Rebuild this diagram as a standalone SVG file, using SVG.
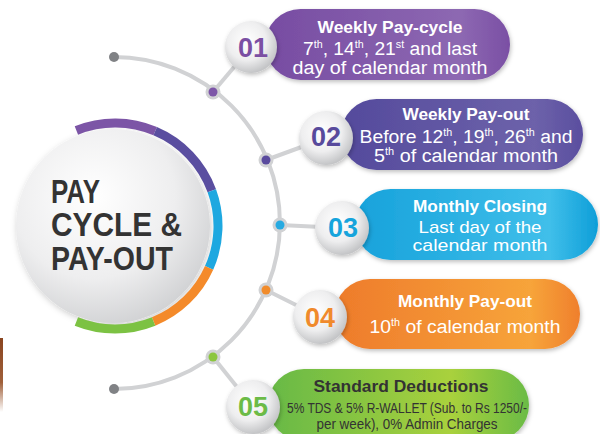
<svg xmlns="http://www.w3.org/2000/svg" width="600" height="434" viewBox="0 0 600 434">
<style>
.t{font-family:"Liberation Sans",Arial,sans-serif;text-anchor:middle;fill:#fff}
.h{font-weight:bold;font-size:17px}
.b{font-size:18px}
.b2{font-size:17px}
.s{font-size:14px;fill:#333}
.sup{font-size:10px}
.num{font-family:"Liberation Sans",Arial,sans-serif;font-weight:bold;font-size:27px;text-anchor:middle}
.big{font-family:"Liberation Sans",Arial,sans-serif;font-weight:bold;font-size:34px;fill:#333}
.link{stroke:#d1d2d4;stroke-width:4;fill:none}
.ring{fill:none;stroke-width:9}
</style>
<defs>
<radialGradient id="sph" cx="0.42" cy="0.38" r="0.62">
<stop offset="0" stop-color="#ffffff"/><stop offset="0.6" stop-color="#eeeeef"/><stop offset="1" stop-color="#c4c5c7"/>
</radialGradient>
<radialGradient id="bigc" cx="0.4" cy="0.35" r="0.7">
<stop offset="0" stop-color="#ffffff"/><stop offset="0.6" stop-color="#eeeeef"/><stop offset="1" stop-color="#cfd0d2"/>
</radialGradient>
<linearGradient id="g1"><stop offset="0" stop-color="#774ca2"/><stop offset="0.8" stop-color="#8d68b2"/><stop offset="1" stop-color="#7a4fa4"/></linearGradient>
<linearGradient id="g2"><stop offset="0" stop-color="#544a9c"/><stop offset="0.8" stop-color="#6d62aa"/><stop offset="1" stop-color="#5a4e9f"/></linearGradient>
<linearGradient id="g3"><stop offset="0" stop-color="#17a2db"/><stop offset="0.8" stop-color="#40bfea"/><stop offset="1" stop-color="#0e9ed8"/></linearGradient>
<linearGradient id="g4"><stop offset="0" stop-color="#ee7b2b"/><stop offset="0.8" stop-color="#f7a43a"/><stop offset="1" stop-color="#ef7f2c"/></linearGradient>
<linearGradient id="g5"><stop offset="0" stop-color="#67b946"/><stop offset="0.7" stop-color="#a9d13d"/><stop offset="1" stop-color="#6abb45"/></linearGradient>
<linearGradient id="brown" x1="0" y1="0" x2="0" y2="1"><stop offset="0" stop-color="#8a4520"/><stop offset="0.6" stop-color="#a0603a"/><stop offset="1" stop-color="#ffffff"/></linearGradient>
<filter id="sh" x="-20%" y="-20%" width="140%" height="150%"><feDropShadow dx="1" dy="2" stdDeviation="2" flood-color="#000" flood-opacity="0.25"/></filter>
<filter id="sh2" x="-20%" y="-20%" width="140%" height="140%"><feDropShadow dx="1" dy="2" stdDeviation="3" flood-color="#000" flood-opacity="0.2"/></filter>
</defs>
<rect width="600" height="434" fill="#ffffff"/>
<rect x="0" y="338" width="3" height="74" fill="url(#brown)"/>

<g id="connectors">
<path class="link" d="M114 57 A166 166 0 0 1 114 389"/>
<line class="link" x1="213" y1="92" x2="251" y2="47"/>
<line class="link" x1="266" y1="160" x2="326" y2="138"/>
<line class="link" x1="280" y1="225" x2="342" y2="228"/>
<line class="link" x1="266" y1="290" x2="320" y2="317"/>
<line class="link" x1="213" y1="357" x2="253" y2="407"/>
<circle cx="114" cy="57" r="5" fill="#808285"/>
<circle cx="114" cy="389" r="5" fill="#808285"/>
<circle cx="213" cy="92" r="7.5" fill="#d1d2d4"/><circle cx="213" cy="92" r="4.5" fill="#7d56a8"/>
<circle cx="266" cy="160" r="7.5" fill="#d1d2d4"/><circle cx="266" cy="160" r="4.5" fill="#5a4b9e"/>
<circle cx="280" cy="225" r="7.5" fill="#d1d2d4"/><circle cx="280" cy="225" r="4.5" fill="#27aae1"/>
<circle cx="266" cy="290" r="7.5" fill="#d1d2d4"/><circle cx="266" cy="290" r="4.5" fill="#f18c2c"/>
<circle cx="213" cy="357" r="7.5" fill="#d1d2d4"/><circle cx="213" cy="357" r="4.5" fill="#8cc63f"/>
</g>

<g id="center">
<circle cx="113" cy="226" r="97" fill="url(#bigc)" filter="url(#sh2)"/>
<path class="ring" stroke="#7c55a6" d="M76.4 130.5 A103 103 0 0 1 155.2 131.2"/>
<path class="ring" stroke="#5a4ea0" d="M155.2 131.2 A103 103 0 0 1 211.8 190.8"/>
<path class="ring" stroke="#1ea8e0" d="M211.8 190.8 A103 103 0 0 1 209.1 267.9"/>
<path class="ring" stroke="#f48a2a" d="M209.1 267.9 A103 103 0 0 1 153.6 321.5"/>
<path class="ring" stroke="#7cc243" d="M153.6 321.5 A103 103 0 0 1 76.4 321.5"/>
<text class="big" x="51" y="203" textLength="49" lengthAdjust="spacingAndGlyphs">PAY</text>
<text class="big" x="51" y="236" textLength="131" lengthAdjust="spacingAndGlyphs">CYCLE &amp;</text>
<text class="big" x="51" y="270" textLength="122" lengthAdjust="spacingAndGlyphs">PAY-OUT</text>
</g>

<g id="step1">
<rect x="265" y="9" width="245" height="71" rx="35.5" fill="url(#g1)" filter="url(#sh)"/>
<circle cx="251" cy="47" r="26" fill="url(#sph)" filter="url(#sh)"/>
<text class="num" x="253" y="57" fill="#7b4fa3">01</text>
<text class="t h" x="390" y="33" textLength="145" lengthAdjust="spacingAndGlyphs">Weekly Pay-cycle</text>
<text class="t b" x="390" y="55" textLength="174" lengthAdjust="spacingAndGlyphs">7<tspan class="sup" dy="-7">th</tspan><tspan dy="7">, 14</tspan><tspan class="sup" dy="-7">th</tspan><tspan dy="7">, 21</tspan><tspan class="sup" dy="-7">st</tspan><tspan dy="7"> and last</tspan></text>
<text class="t b" x="390" y="74" textLength="195" lengthAdjust="spacingAndGlyphs">day of calendar month</text>
</g>

<g id="step2">
<rect x="341" y="99" width="242" height="71" rx="35.5" fill="url(#g2)" filter="url(#sh)"/>
<circle cx="326" cy="138" r="27" fill="url(#sph)" filter="url(#sh)"/>
<text class="num" x="326" y="146" fill="#584a9c">02</text>
<text class="t h" x="466" y="120" textLength="127" lengthAdjust="spacingAndGlyphs">Weekly Pay-out</text>
<text class="t b" x="466" y="143" textLength="213" lengthAdjust="spacingAndGlyphs">Before 12<tspan class="sup" dy="-7">th</tspan><tspan dy="7">, 19</tspan><tspan class="sup" dy="-7">th</tspan><tspan dy="7">, 26</tspan><tspan class="sup" dy="-7">th</tspan><tspan dy="7"> and</tspan></text>
<text class="t b" x="466" y="162" textLength="184" lengthAdjust="spacingAndGlyphs">5<tspan class="sup" dy="-7">th</tspan><tspan dy="7"> of calendar month</tspan></text>
</g>

<g id="step3">
<rect x="355" y="189" width="243" height="71" rx="35.5" fill="url(#g3)" filter="url(#sh)"/>
<circle cx="342" cy="228" r="27" fill="url(#sph)" filter="url(#sh)"/>
<text class="num" x="343" y="237" fill="#16a4dc">03</text>
<text class="t h" x="480" y="212" textLength="134" lengthAdjust="spacingAndGlyphs">Monthly Closing</text>
<text class="t b2" x="480" y="233" textLength="123" lengthAdjust="spacingAndGlyphs">Last day of the</text>
<text class="t b2" x="480" y="251" textLength="135" lengthAdjust="spacingAndGlyphs">calendar month</text>
</g>

<g id="step4">
<rect x="335" y="279" width="245" height="70" rx="35" fill="url(#g4)" filter="url(#sh)"/>
<circle cx="320" cy="317" r="27" fill="url(#sph)" filter="url(#sh)"/>
<text class="num" x="320" y="327" fill="#f08a2c">04</text>
<text class="t h" x="465" y="307" textLength="134" lengthAdjust="spacingAndGlyphs">Monthly Pay-out</text>
<text class="t b" x="465" y="333" textLength="191" lengthAdjust="spacingAndGlyphs">10<tspan class="sup" dy="-7">th</tspan><tspan dy="7"> of calendar month</tspan></text>
</g>

<g id="step5">
<rect x="268" y="369" width="261" height="72" rx="36" fill="url(#g5)" filter="url(#sh)"/>
<circle cx="253" cy="407" r="27" fill="url(#sph)" filter="url(#sh)"/>
<text class="num" x="253" y="416" fill="#6cbb47">05</text>
<text class="t h" x="401" y="392" style="fill:#333" textLength="175" lengthAdjust="spacingAndGlyphs">Standard Deductions</text>
<text class="t s" x="407" y="413" textLength="240" lengthAdjust="spacingAndGlyphs">5% TDS &amp; 5% R-WALLET (Sub. to Rs 1250/-</text>
<text class="t s" x="407" y="429" textLength="181" lengthAdjust="spacingAndGlyphs">per week), 0% Admin Charges</text>
</g>
</svg>
